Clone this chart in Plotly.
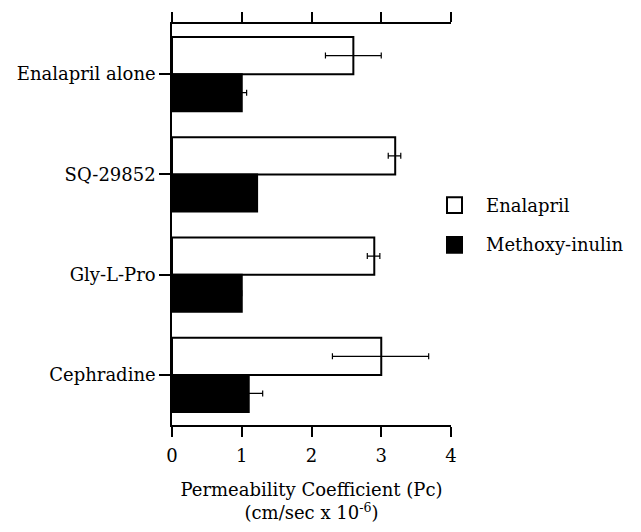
import plotly.graph_objects as go

categories = ["Enalapril alone", "SQ-29852", "Gly-L-Pro", "Cephradine"]
enalapril = [2.6, 3.2, 2.9, 3.0]
enalapril_err_plus = [0.4, 0.08, 0.08, 0.68]
enalapril_err_minus = [0.4, 0.1, 0.1, 0.7]
methoxy = [1.0, 1.22, 1.0, 1.1]
methoxy_err = [0.07, 0.0, 0.0, 0.2]
x_ticks = [0, 1, 2, 3, 4]
legend_names = ["Enalapril", "Methoxy-inulin"]
legend_fills = ["white", "black"]

FONT = "DejaVu Serif"
FS = 18

W, H = 641, 532
ML, MR, MT, MB = 172, 190, 24, 105
PW, PH = W - ML - MR, H - MT - MB


def px_x(p):
    return (p - ML) / PW


def px_y(p):
    return (H - MB - p) / PH


fig = go.Figure()
fig.add_trace(go.Bar(
    y=categories, x=enalapril, orientation="h", name=legend_names[0],
    marker=dict(color=legend_fills[0], line=dict(color="black", width=2)),
    error_x=dict(type="data", array=enalapril_err_plus, arrayminus=enalapril_err_minus,
                 color="black", thickness=1.2, width=3),
    showlegend=False,
))
fig.add_trace(go.Bar(
    y=categories, x=methoxy, orientation="h", name=legend_names[1],
    marker=dict(color=legend_fills[1], line=dict(color="black", width=2)),
    error_x=dict(type="data", array=methoxy_err, color="black", thickness=1.2, width=3),
    showlegend=False,
))

# legend drawn as shapes + annotations
for i, (name, fill) in enumerate(zip(legend_names, legend_fills)):
    cy = 206 + 40 * i
    fig.add_shape(type="rect", xref="paper", yref="paper",
                  x0=px_x(447), x1=px_x(462), y0=px_y(cy - 8), y1=px_y(cy + 8),
                  fillcolor=fill, line=dict(color="black", width=2))
    fig.add_annotation(xref="paper", yref="paper", x=px_x(484), y=px_y(cy),
                       xanchor="left", yanchor="middle", text=name, showarrow=False,
                       font=dict(family=FONT, size=FS, color="black"))

fig.update_layout(
    width=W, height=H,
    margin=dict(l=ML, r=MR, t=MT, b=MB),
    paper_bgcolor="white", plot_bgcolor="white",
    barmode="group", bargap=0.26, bargroupgap=0,
    font=dict(family=FONT, size=FS, color="black"),
    showlegend=False,
    xaxis=dict(range=[0, 4], tickvals=x_ticks, ticktext=[str(v) for v in x_ticks],
               showline=True, linecolor="black", linewidth=1.5,
               mirror="ticks", ticks="outside", ticklen=10, tickwidth=1.5, tickcolor="black",
               ticklabelstandoff=4,
               showgrid=False, zeroline=False,
               title=dict(text="Permeability Coefficient (Pc)<br>(cm/sec x 10<sup>-6</sup>)",
                          font=dict(family=FONT, size=FS), standoff=18)),
    yaxis=dict(range=[3.5, -0.5], showline=True, linecolor="black", linewidth=1.5,
               ticks="outside", ticklen=11, tickwidth=1.5, tickcolor="black",
               showgrid=False, zeroline=False),
)

fig.write_html("out.html")
